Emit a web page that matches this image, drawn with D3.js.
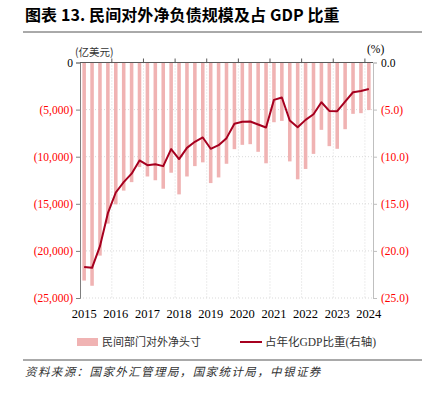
<!DOCTYPE html>
<html>
<head>
<meta charset="utf-8">
<script src="https://cdn.jsdelivr.net/npm/d3@7"></script>
<style>
  body { margin: 0; background: #fff; }
  svg text { font-family: "Liberation Serif", "Noto Sans CJK SC", serif; }
  .cjk { font-family: "Noto Sans CJK SC", sans-serif; }
</style>
</head>
<body>
<svg id="chart" width="431" height="393"></svg>
<script>
// quarters 2015Q1 .. 2024Q1
var quarters = [];
for (var y = 2015; y <= 2024; y++) {
  for (var q = 1; q <= 4; q++) {
    if (y === 2024 && q > 1) break;
    quarters.push(y + "Q" + q);
  }
}

// net external position of private sector (100m USD)
var netPosition = [
  -23150, -23700, -20500, -17100, -15060, -13600, -12700, -11100,
  -12100, -12500, -13400, -11700, -14000, -12100, -11000, -10600,
  -12800, -12200, -10750, -9200, -8740, -8670, -9480, -10700,
  -6340, -6200, -10500, -12400, -11300, -9700, -7150, -8880,
  -9160, -7080, -5450, -5380, -5050
];

// share of annualised GDP (%), right axis
var gdpShare = [
  -21.7, -21.8, -19.5, -16.0, -13.8, -12.7, -11.8, -10.4,
  -10.9, -10.8, -11.0, -9.2, -10.25, -9.06, -8.42, -7.96,
  -9.16, -8.78, -8.03, -6.5, -6.3, -6.27, -6.58, -6.9,
  -3.97, -3.72, -6.16, -6.87, -6.09, -5.49, -4.22, -5.14,
  -5.17, -4.15, -3.16, -3.02, -2.81
];

var leftTicks = [0, -5000, -10000, -15000, -20000, -25000];
var rightTicks = [0, -5, -10, -15, -20, -25];
var yearLabels = ["2015", "2016", "2017", "2018", "2019", "2020", "2021", "2022", "2023", "2024"];

var barColor = "#f0b3b3";
var lineColor = "#a6001f";
var red = "#ff0000";

var svg = d3.select("#chart");
var margin = {top: 62.5, right: 58, bottom: 95, left: 80};
var width = 431 - margin.left - margin.right,
    height = 393 - margin.top - margin.bottom;

// title
svg.append("text")
  .attr("class", "cjk")
  .attr("x", 25).attr("y", 21)
  .style("font-size", "16px").style("font-weight", "bold")
  .style("letter-spacing", "0.1px")
  .attr("fill", "#000")
  .text("图表 13. 民间对外净负债规模及占 GDP 比重");
svg.append("line")
  .attr("x1", 23).attr("x2", 422).attr("y1", 32).attr("y2", 32)
  .attr("stroke", "#555").attr("stroke-width", 1);

var g = svg.append("g").attr("transform", "translate(" + margin.left + "," + margin.top + ")");

var x = d3.scaleBand().domain(quarters).range([0, width]).paddingInner(0.55).paddingOuter(0.3);
var yL = d3.scaleLinear().domain([0, -25000]).range([0, height]);
var yR = d3.scaleLinear().domain([0, -25]).range([0, height]);

// horizontal dotted grid
g.append("g").selectAll("line")
  .data(leftTicks.slice(1))
  .enter().append("line")
    .attr("x1", 0).attr("x2", width)
    .attr("y1", function(d) { return yL(d); })
    .attr("y2", function(d) { return yL(d); })
    .attr("stroke", "#d9d9d9").attr("stroke-dasharray", "1,2");

// vertical dotted grid at year boundaries
var boundaries = quarters.filter(function(d, i) { return i > 0 && d.slice(-2) === "Q1"; });
var bx = function(d) { return x(d) - x.step() * x.paddingInner() / 2; };
g.append("g").selectAll("line")
  .data(boundaries)
  .enter().append("line")
    .attr("x1", bx).attr("x2", bx)
    .attr("y1", 0).attr("y2", height)
    .attr("stroke", "#d9d9d9").attr("stroke-dasharray", "1,2");

// bars
g.append("g").selectAll("rect")
  .data(netPosition)
  .enter().append("rect")
    .attr("x", function(d, i) { return x(quarters[i]); })
    .attr("y", yL(0))
    .attr("width", x.bandwidth())
    .attr("height", function(d) { return yL(d) - yL(0); })
    .attr("fill", barColor);

// line
var line = d3.line()
  .x(function(d, i) { return x(quarters[i]) + x.bandwidth() / 2; })
  .y(function(d) { return yR(d); });
g.append("path")
  .datum(gdpShare)
  .attr("d", line)
  .attr("fill", "none")
  .attr("stroke", lineColor)
  .attr("stroke-width", 2)
  .attr("stroke-linejoin", "round");

// left axis
var fmtL = function(d) { return d === 0 ? "0" : "(" + d3.format(",")(-d) + ")"; };
var axL = g.append("g")
  .call(d3.axisLeft(yL).tickValues(leftTicks).tickFormat(fmtL).tickSize(4).tickPadding(3));
axL.select(".domain").attr("stroke", "#7f7f7f");
axL.selectAll(".tick line").attr("stroke", "#7f7f7f");
axL.selectAll(".tick text")
  .style("font-size", "11.5px")
  .attr("fill", function(d) { return d === 0 ? "#000" : red; });

// right axis
var fmtR = function(d) { return d === 0 ? "0.0" : "(" + d3.format(".1f")(-d) + ")"; };
var axR = g.append("g")
  .attr("transform", "translate(" + width + ",0)")
  .call(d3.axisRight(yR).tickValues(rightTicks).tickFormat(fmtR).tickSize(4).tickPadding(4));
axR.select(".domain").attr("stroke", "#bfbfbf");
axR.selectAll(".tick line").attr("stroke", "#bfbfbf");
axR.selectAll(".tick text")
  .style("font-size", "11.5px")
  .attr("fill", function(d) { return d === 0 ? "#000" : red; });

// top category axis (zero line) with ticks at year boundaries
g.append("line")
  .attr("x1", 0).attr("x2", width).attr("y1", 0).attr("y2", 0)
  .attr("stroke", "#595959").attr("stroke-width", 1);
g.append("g").selectAll("line")
  .data(boundaries)
  .enter().append("line")
    .attr("x1", bx).attr("x2", bx)
    .attr("y1", 0).attr("y2", -4)
    .attr("stroke", "#595959");

// year labels
var labelQuarters = quarters.filter(function(d) { return d.slice(-2) === "Q1"; });
g.append("g").selectAll("text")
  .data(labelQuarters)
  .enter().append("text")
    .attr("x", function(d) { return x(d) + x.bandwidth() / 2; })
    .attr("y", height + 20)
    .attr("text-anchor", "middle")
    .style("font-size", "12.5px")
    .attr("fill", "#000")
    .text(function(d, i) { return yearLabels[i]; });

// unit labels
svg.append("text").attr("class", "cjk")
  .attr("x", 75).attr("y", 56)
  .style("font-size", "10.5px").attr("fill", "#333")
  .text("(亿美元)");
svg.append("text")
  .attr("x", 367).attr("y", 53)
  .style("font-size", "11.5px").attr("fill", "#000")
  .text("(%)");

// legend
svg.append("rect")
  .attr("x", 77).attr("y", 338).attr("width", 21).attr("height", 8)
  .attr("fill", barColor);
svg.append("text").attr("class", "cjk")
  .attr("x", 102).attr("y", 346)
  .style("font-size", "11px").attr("fill", "#333")
  .text("民间部门对外净头寸");
svg.append("line")
  .attr("x1", 240).attr("x2", 262).attr("y1", 342).attr("y2", 342)
  .attr("stroke", lineColor).attr("stroke-width", 2);
svg.append("text")
  .attr("x", 265).attr("y", 346)
  .style("font-size", "11.5px").attr("fill", "#333")
  .text("占年化GDP比重(右轴)");

// source
svg.append("line")
  .attr("x1", 23).attr("x2", 422).attr("y1", 360).attr("y2", 360)
  .attr("stroke", "#555").attr("stroke-width", 1);
svg.append("text").attr("class", "cjk")
  .attr("x", 25).attr("y", 376)
  .style("font-size", "11.5px").style("font-style", "italic")
  .style("letter-spacing", "1.4px").attr("fill", "#333")
  .text("资料来源：国家外汇管理局，国家统计局，中银证券");
</script>
</body>
</html>
